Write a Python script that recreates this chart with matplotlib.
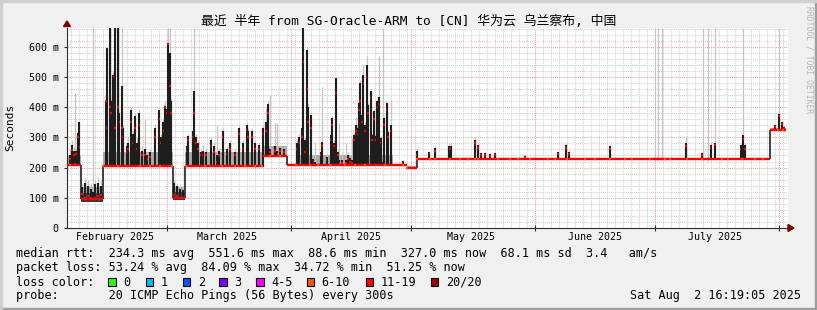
import numpy as np
import matplotlib
matplotlib.use("Agg")
import matplotlib.pyplot as plt
from matplotlib.patches import Rectangle, Polygon

# ---------------- data (time unit: days since 2025-02-01 00:00, values in ms) ----------------
month_starts = [28, 59, 89, 120, 150, 181]
label_days = [15, 43, 74, 104, 135, 165]
month_labels = ["February 2025", "March 2025", "April 2025", "May 2025", "June 2025", "July 2025"]
y_ticks = [0, 100, 200, 300, 400, 500, 600]
y_tick_labels = ["0", "100 m", "200 m", "300 m", "400 m", "500 m", "600 m"]

# median baseline segments
seg_start = [3.0, 6.4, 12.0, 29.4, 32.5, 52.0, 58.0, 60.3, 84.5, 88.0, 90.4, 178.8]
seg_end = [6.4, 12.0, 29.4, 32.5, 52.0, 58.0, 60.3, 84.5, 88.0, 90.4, 178.8, 182.7]
seg_level = [208, 95, 205, 100, 205, 238, 207, 207, 209, 200, 228, 325]
seg_fuzz = [30, 40, 45, 35, 45, 35, 3, 35, 4, 4, 3, 6]
seg_dense = [0, 1, 0, 1, 0, 0, 0, 0, 0, 0, 0, 0]

# spikes: day, median, dense-smoke top, max ping
spike_day = [3.75, 4.2, 4.75, 5.0, 5.25, 5.8, 6.1,
             6.75, 7.5, 8.25, 9.0, 9.4, 10.0, 10.75, 11.5,
             12.7, 12.9, 13.75, 14.0, 14.6, 15.0, 15.8, 16.1, 16.7, 16.9, 17.9, 18.3, 19.0, 19.4,
             20.0, 20.4, 21.1, 21.7, 22.5, 23.1, 23.75, 25.0, 26.1, 26.4, 27.1, 27.5, 27.9, 28.3,
             28.75, 29.0,
             29.75, 30.5, 31.25, 32.0,
             32.9, 33.3, 34.4, 34.75, 35.2, 35.8, 36.4, 36.9, 37.75, 38.9, 39.8, 40.4, 41.0, 41.9,
             42.9, 43.75, 45.0, 46.0, 46.9, 47.9, 48.3, 49.2, 50.0, 51.0, 51.9, 52.75, 53.3, 53.75,
             55.0, 55.6, 56.25, 57.25,
             60.4, 61.1, 61.7, 62.1, 62.5, 63.1, 63.3, 64.0, 64.6, 65.0, 66.4, 66.8, 67.9, 68.9,
             69.25, 69.75, 70.2, 70.7, 71.1, 71.7, 72.75, 73.2, 73.75, 74.2, 74.8, 75.25, 75.6,
             76.0, 76.25, 76.7, 77.1, 77.5, 77.9, 78.3, 78.9, 79.25, 79.75, 80.1, 80.6, 80.9,
             81.4, 81.9, 82.25, 82.9, 83.3, 83.9, 86.9,
             90.4, 93.6, 95.0, 98.6, 98.9, 105.0, 105.75, 106.5, 107.5, 108.75, 110.0, 117.5,
             125.7, 127.7, 128.5, 138.75, 150.0, 150.8, 151.7, 157.7, 161.7, 162.1, 163.3, 163.9,
             165.0, 171.4, 172.1, 172.5, 180.0, 181.0, 181.7, 182.25]
spike_med = [230, 258, 240, 212, 245, 300, 268,
             112, 100, 105, 100, 95, 100, 105, 110,
             420, 330, 400, 380, 500, 330, 400, 350, 330, 300, 250, 260, 350, 280,
             330, 260, 340, 240, 240, 230, 235, 300, 360, 280, 320, 400, 380, 610,
             470, 380,
             110, 105, 100, 100,
             255, 290, 300, 380, 280, 260, 240, 240, 240, 270, 250, 220, 240, 300,
             245, 260, 240, 310, 260, 325, 300, 300, 260, 260, 310, 320, 380, 250,
             255, 245, 255, 250,
             260, 280, 300, 551, 250, 460, 350, 330, 220, 210, 240, 270, 225, 290,
             340, 270, 446, 240, 215, 215, 215, 230, 220, 215, 290, 320, 310,
             390, 420, 350, 480, 320, 500, 380, 430, 290, 360, 290, 400, 410,
             280, 210, 340, 390, 300, 320, 215,
             240, 245, 255, 260, 265, 280, 265, 240, 240, 238, 240, 235,
             245, 265, 245, 262, 228, 228, 228, 270, 240, 228, 228, 265,
             275, 260, 295, 260, 335, 370, 345, 330]
spike_hi = [242, 275, 255, 225, 255, 314, 352,
            135, 150, 140, 130, 118, 145, 150, 140,
            420, 595, 662, 420, 505, 662, 662, 380, 470, 330, 270, 280, 390, 310,
            370, 280, 380, 255, 260, 240, 250, 330, 390, 300, 350, 400, 395, 613,
            580, 420,
            150, 140, 130, 125,
            270, 303, 322, 452, 300, 280, 250, 255, 250, 290, 270, 240, 255, 320,
            260, 280, 250, 330, 280, 340, 320, 320, 280, 275, 330, 350, 410, 260,
            270, 255, 265, 260,
            280, 300, 330, 662, 290, 590, 400, 375, 230, 220, 253, 286, 236, 308,
            364, 281, 496, 250, 225, 225, 225, 242, 231, 225, 308, 341, 330,
            413, 480, 375, 507, 341, 540, 408, 452, 308, 386, 303, 419, 435,
            297, 220, 364, 413, 319, 341, 222,
            255, 250, 265, 270, 272, 292, 275, 248, 248, 245, 248, 238,
            253, 275, 253, 270, 228, 228, 228, 282, 248, 228, 228, 275,
            282, 275, 308, 275, 340, 378, 352, 335]
spike_max = [262, 290, 268, 447, 265, 322, 355,
             150, 165, 160, 150, 662, 160, 170, 155,
             450, 600, 662, 430, 520, 662, 662, 390, 662, 340, 280, 300, 400, 320,
             380, 300, 395, 270, 360, 250, 260, 345, 400, 310, 360, 420, 410, 662,
             662, 430,
             160, 150, 145, 135,
             280, 310, 330, 662, 310, 290, 260, 275, 260, 300, 280, 341, 265, 330,
             270, 290, 260, 341, 290, 350, 330, 330, 290, 285, 340, 397, 420, 441,
             347, 347, 275, 270,
             290, 310, 340, 662, 300, 600, 410, 385, 240, 286, 260, 468, 245, 315,
             370, 290, 500, 260, 347, 253, 281, 250, 240, 297, 315, 369, 340,
             420, 490, 385, 540, 350, 568, 415, 460, 315, 395, 310, 425, 568,
             305, 662, 370, 420, 325, 424, 225,
             260, 255, 270, 280, 285, 300, 280, 250, 250, 248, 250, 240,
             255, 282, 258, 275, 662, 662, 662, 303, 252, 662, 662, 280,
             662, 280, 662, 280, 345, 662, 355, 338]

# days where the median is drawn in the 6-10 loss colour
orange_days = [3.75, 12.0, 15.75, 21.25, 23.75, 26.25, 29.25, 32.75, 37.5, 41.75, 45.0, 47.5,
               50.0, 51.75, 53.75, 56.25, 60.25, 63.75, 65.75, 68.75, 72.5, 75.0, 77.5, 82.5,
               87.0, 88.0, 90.5, 93.75, 95.0, 98.75, 101.25, 103.25, 105.0, 105.75, 110.75,
               113.75, 115.75, 118.75, 123.25, 125.0, 128.0, 132.5, 135.0, 138.75, 142.5,
               144.25, 148.75, 152.5, 153.75, 158.0, 161.75, 163.25, 166.75, 168.25, 171.75,
               175.0, 177.0, 180.75, 182.0]

loss_labels = ["0", "1", "2", "3", "4-5", "6-10", "11-19", "20/20"]
loss_colors = ["#26ff00", "#00b8ff", "#0059ff", "#7e00ff", "#ff00ff", "#ff5500", "#ff0000", "#a00000"]

title = "最近 半年 from SG-Oracle-ARM to [CN] 华为云 乌兰察布, 中国"
line1 = "median rtt:  234.3 ms avg  551.6 ms max  88.6 ms min  327.0 ms now  68.1 ms sd  3.4   am/s"
line2 = "packet loss: 53.24 % avg  84.09 % max  34.72 % min  51.25 % now"
line4a = "probe:       20 ICMP Echo Pings (56 Bytes) every 300s"
line4b = "Sat Aug  2 16:19:05 2025"

# ---------------- drawing ----------------
W, H = 817, 310
MONO = ["DejaVu Sans Mono", "Noto Sans CJK SC"]
plt.rcParams["font.family"] = MONO

fig = plt.figure(figsize=(W / 100, H / 100), dpi=100, facecolor="#f0f0f0")


def fx(x):
    return x / W


def fy(y):
    return 1 - y / H


# frame shading
fig.patches.append(Rectangle((0, 0), 1, fy(H - 2), transform=fig.transFigure, color="#9e9e9e", zorder=0))
fig.patches.append(Rectangle((fx(W - 2), 0), fx(2), 1, transform=fig.transFigure, color="#9e9e9e", zorder=0))
fig.patches.append(Rectangle((0, fy(2)), 1, fy(0) - fy(2), transform=fig.transFigure, color="#cfcfcf", zorder=0))
fig.patches.append(Rectangle((0, 0), fx(2), 1, transform=fig.transFigure, color="#cfcfcf", zorder=0))

ax = fig.add_axes([fx(67), fy(228), (788 - 67) / W, (228 - 28) / H])
ax.set_facecolor("white")
XMIN, XMAX, YMAX = 3.0, 183.25, 662
ax.set_xlim(XMIN, XMAX)
ax.set_ylim(0, YMAX)

seg_start_a = np.array(seg_start)
seg_level_a = np.array(seg_level)


def base_at(d):
    i = np.searchsorted(seg_start_a, d, side="right") - 1
    return seg_level_a[np.clip(i, 0, len(seg_level_a) - 1)]


# grid
dot = (0, (1, 1))
for yv in range(20, YMAX, 20):
    if yv % 100 == 0:
        ax.axhline(yv, color="#eda0a0", lw=0.75, ls=dot, zorder=1)
    else:
        ax.axhline(yv, color="#d0d0d0", lw=0.75, ls=dot, zorder=1)
for d in np.arange(4, XMAX, 2):
    if d not in month_starts:
        ax.axvline(d, color="#d0d0d0", lw=0.75, ls=dot, zorder=1)
for d in month_starts:
    ax.axvline(d, color="#eda0a0", lw=0.75, ls=dot, zorder=1)

# smoke fuzz band
for s, e, lv, fz, dn in zip(seg_start, seg_end, seg_level, seg_fuzz, seg_dense):
    ax.fill_between([s, e], [lv - 3, lv - 3], [lv + fz, lv + fz], color="#aaaaaa", lw=0, zorder=2)
    if dn:
        ax.fill_between([s, e], [lv - 8, lv - 8], [lv + fz * 0.55, lv + fz * 0.55], color="#3a3a3a",
                        lw=0, zorder=2)

# transitions between levels
for i in range(1, len(seg_start)):
    a, b = seg_level[i - 1], seg_level[i]
    if abs(a - b) > 15:
        ax.vlines(seg_start[i], min(a, b), max(a, b), color="#202020", lw=1.2, zorder=3)

sd = np.array(spike_day)
sb = base_at(sd)
# max pings (light smoke)
ax.vlines(sd, sb, spike_max, color="#c4c4c4", lw=0.9, zorder=3)
# dense smoke
hi = np.array(spike_hi)
m = hi > sb + 1
ax.vlines(sd[m], sb[m] - 3, hi[m], color="#1e1e1e", lw=1.5, zorder=4)

# median line
LW = 1.7
ax.hlines(seg_level, seg_start, seg_end, color="#ff0000", lw=LW, zorder=5)
od = np.array(orange_days)
ax.hlines(base_at(od), od - 0.3, od + 0.3, color="#ff5500", lw=LW, zorder=6)
ax.hlines(spike_med, sd - 0.22, sd + 0.22, color="#ff0000", lw=LW, zorder=7)

# axes styling
for s in ["top", "right"]:
    ax.spines[s].set_visible(False)
for s in ["left", "bottom"]:
    ax.spines[s].set_color("#2c2c2c")
    ax.spines[s].set_linewidth(0.8)
ax.set_yticks(y_ticks)
ax.set_yticklabels(y_tick_labels)
ax.set_xticks(month_starts)
ax.set_xticklabels([""] * len(month_starts))
ax.set_xticks(label_days, minor=True)
ax.set_xticklabels(month_labels, minor=True)
ax.tick_params(axis="y", direction="out", length=2, width=0.8, pad=4, labelsize=7.2, colors="#2c2c2c",
               labelcolor="black")
ax.tick_params(axis="x", which="major", direction="inout", length=4, width=0.8, colors="#2c2c2c")
ax.tick_params(axis="x", which="minor", length=0, pad=3, labelsize=7.2, labelcolor="black")

# arrows
fig.patches.append(Polygon([[fx(63.5), fy(26.5)], [fx(70.5), fy(26.5)], [fx(67), fy(21)]], closed=True,
                           transform=fig.transFigure, color="#7f0000", zorder=10))
fig.patches.append(Polygon([[fx(788), fy(224.5)], [fx(788), fy(231.5)], [fx(794), fy(228)]], closed=True,
                           transform=fig.transFigure, color="#7f0000", zorder=10))

# texts
fig.text(0.5, fy(21), title, ha="center", va="center", fontsize=9.3, family=MONO)
fig.text(fx(10), fy(127), "Seconds", rotation=90, ha="center", va="center", fontsize=8, family=MONO)
fig.text(fx(808.5), fy(60), "RRDTOOL / TOBI OETIKER", rotation=-90, ha="center", va="center",
         fontsize=5.8, color="#b4b4b4", family=MONO)

LFS = 8.5
fig.text(fx(16), fy(254), line1, ha="left", va="center", fontsize=LFS, family=MONO)
fig.text(fx(16), fy(268), line2, ha="left", va="center", fontsize=LFS, family=MONO)
fig.text(fx(16), fy(282), "loss color:", ha="left", va="center", fontsize=LFS, family=MONO)
box_x = [108.3, 145.7, 182.7, 219.3, 256.0, 306.7, 365.7, 430.7]
for bx, lab, col in zip(box_x, loss_labels, loss_colors):
    fig.patches.append(Rectangle((fx(bx), fy(286)), fx(7.5), fy(278) - fy(286), transform=fig.transFigure,
                                 facecolor=col, edgecolor="black", lw=0.8, zorder=10))
    fig.text(fx(bx + 15), fy(282), lab, ha="left", va="center", fontsize=LFS, family=MONO)
fig.text(fx(16), fy(296), line4a, ha="left", va="center", fontsize=LFS, family=MONO)
fig.text(fx(800.5), fy(296), line4b, ha="right", va="center", fontsize=LFS, family=MONO)

fig.savefig("out.png", dpi=100, facecolor=fig.get_facecolor())
